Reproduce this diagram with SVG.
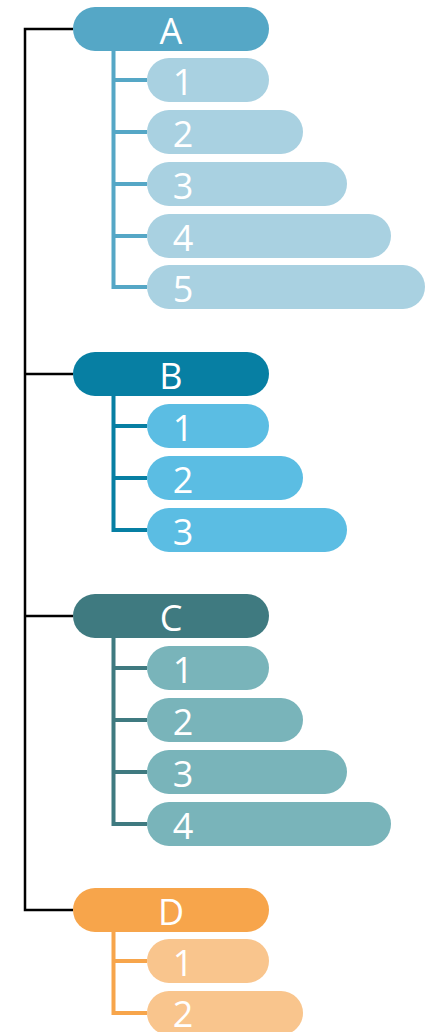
<svg xmlns="http://www.w3.org/2000/svg" width="434" height="1032" viewBox="0 0 434 1032">
  <style>
    text { font-family: "Open Sans", "Liberation Sans", sans-serif; font-size: 36px; fill: #ffffff; text-anchor: middle; }
    .trunk { fill: none; stroke: #000000; stroke-width: 2.5; }
    .branch { fill: none; stroke-width: 4; }
  </style>

  <!-- connectors -->
  <g id="connectors">
    <path class="trunk" d="M73 29 H25 V910 H73 M25 374 H73 M25 616 H73"/>
    <path class="branch" stroke="#55A7C6" d="M113.5 51 V287 H147 M113.5 80 H147 M113.5 132 H147 M113.5 184 H147 M113.5 236 H147"/>
    <path class="branch" stroke="#077FA3" d="M113.5 396 V530 H147 M113.5 426 H147 M113.5 478 H147"/>
    <path class="branch" stroke="#3F7A80" d="M113.5 638 V824 H147 M113.5 668 H147 M113.5 720 H147 M113.5 772 H147"/>
    <path class="branch" stroke="#F7A54B" d="M113.5 932 V1013 H147 M113.5 961 H147"/>
  </g>

  <!-- group A -->
  <g id="A">
    <rect x="73" y="7" width="196" height="44" rx="22" fill="#55A7C6"/>
    <text x="171" y="44">A</text>
  </g>
  <g id="A1"><rect x="147" y="58" width="122" height="44" rx="22" fill="#A9D1E1"/><text x="183" y="94.5">1</text></g>
  <g id="A2"><rect x="147" y="110" width="156" height="44" rx="22" fill="#A9D1E1"/><text x="183" y="146.5">2</text></g>
  <g id="A3"><rect x="147" y="162" width="200" height="44" rx="22" fill="#A9D1E1"/><text x="183" y="198.5">3</text></g>
  <g id="A4"><rect x="147" y="214" width="244" height="44" rx="22" fill="#A9D1E1"/><text x="183" y="250.5">4</text></g>
  <g id="A5"><rect x="147" y="265" width="278" height="44" rx="22" fill="#A9D1E1"/><text x="183" y="301.5">5</text></g>

  <!-- group B -->
  <g id="B">
    <rect x="73" y="352" width="196" height="44" rx="22" fill="#077FA3"/>
    <text x="171" y="388.5">B</text>
  </g>
  <g id="B1"><rect x="147" y="404" width="122" height="44" rx="22" fill="#5BBDE3"/><text x="183" y="440.5">1</text></g>
  <g id="B2"><rect x="147" y="456" width="156" height="44" rx="22" fill="#5BBDE3"/><text x="183" y="492.5">2</text></g>
  <g id="B3"><rect x="147" y="508" width="200" height="44" rx="22" fill="#5BBDE3"/><text x="183" y="544.5">3</text></g>

  <!-- group C -->
  <g id="C">
    <rect x="73" y="594" width="196" height="44" rx="22" fill="#3F7A80"/>
    <text x="171" y="630.5">C</text>
  </g>
  <g id="C1"><rect x="147" y="646" width="122" height="44" rx="22" fill="#79B4BA"/><text x="183" y="682.5">1</text></g>
  <g id="C2"><rect x="147" y="698" width="156" height="44" rx="22" fill="#79B4BA"/><text x="183" y="734.5">2</text></g>
  <g id="C3"><rect x="147" y="750" width="200" height="44" rx="22" fill="#79B4BA"/><text x="183" y="786.5">3</text></g>
  <g id="C4"><rect x="147" y="802" width="244" height="44" rx="22" fill="#79B4BA"/><text x="183" y="838.5">4</text></g>

  <!-- group D -->
  <g id="D">
    <rect x="73" y="888" width="196" height="44" rx="22" fill="#F7A54B"/>
    <text x="171" y="924.5">D</text>
  </g>
  <g id="D1"><rect x="147" y="939" width="122" height="44" rx="22" fill="#F9C58D"/><text x="183" y="975.5">1</text></g>
  <g id="D2"><rect x="147" y="991" width="156" height="44" rx="22" fill="#F9C58D"/><text x="183" y="1027">2</text></g>
</svg>
